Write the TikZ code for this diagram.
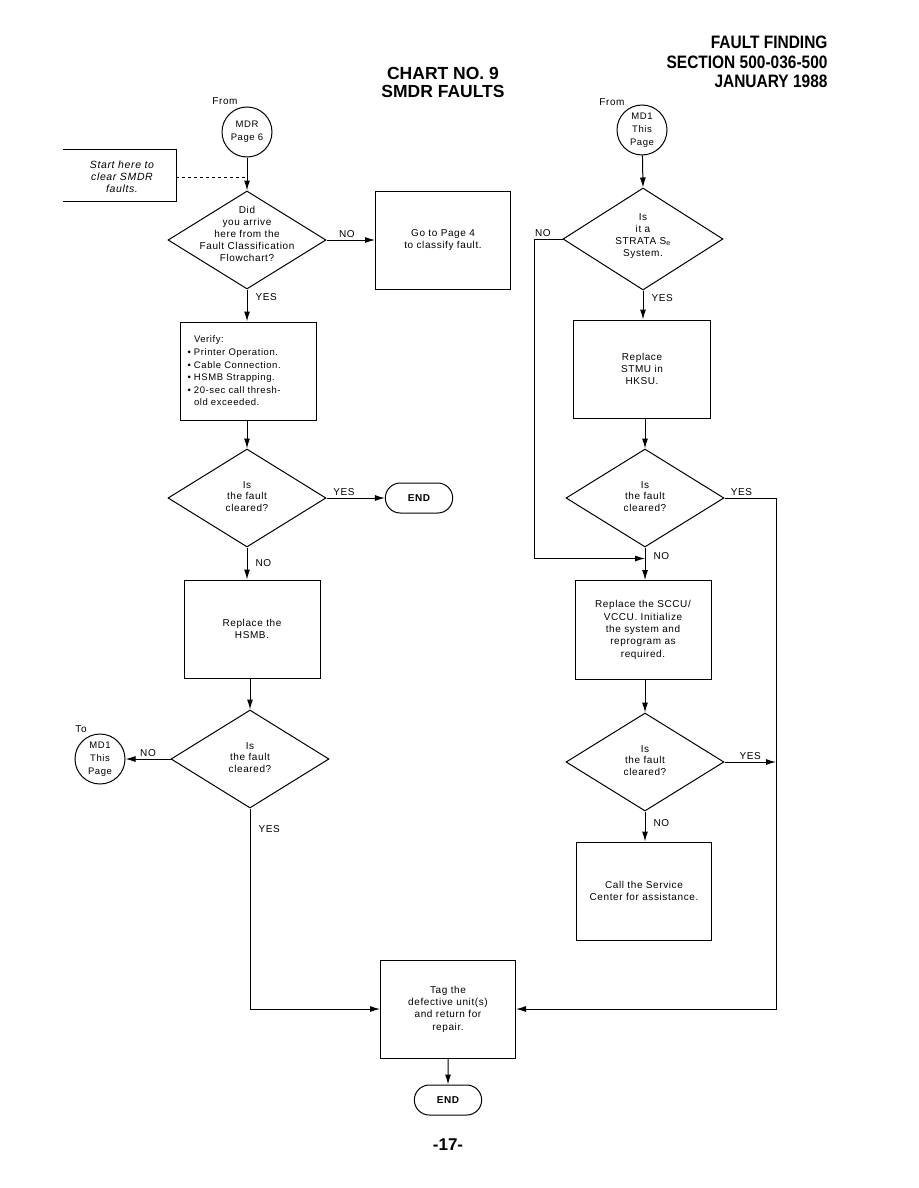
\documentclass[tikz,border=0pt]{standalone}
\usepackage{fontspec}
\setmainfont{Liberation Sans}[LetterSpace=6]
\newfontfamily\headfont{Liberation Sans}[FakeStretch=0.86]
\newfontfamily\titlefont{Liberation Sans}
\usetikzlibrary{arrows.meta,positioning,shapes.geometric,shapes.misc}
\newcommand{\bitem}{\leavevmode\llap{\textbullet\ }}

\begin{document}
\begin{tikzpicture}[x=1pt, y=-1pt, >={Latex[length=10pt,width=6pt]}, line width=1pt,
    font=\fontsize{10}{12.3}\selectfont]
  \tikzstyle{task}=[draw, align=center, minimum width=136pt, minimum height=98pt, inner sep=2pt]
  \tikzstyle{query}=[draw, diamond, minimum width=158pt, minimum height=98pt, inner sep=0pt]
  \tikzstyle{qtext}=[align=center, inner sep=0pt, font=\fontsize{10}{11.8}\selectfont]
  \tikzstyle{link}=[draw, circle, align=center, minimum size=50pt, inner sep=0pt, font=\fontsize{9.5}{13}\selectfont]
  \tikzstyle{terminal}=[draw, rounded rectangle, minimum width=74pt, minimum height=30pt, font=\bfseries\fontsize{10}{12}\selectfont]
  \tikzstyle{ans}=[inner sep=2pt, font=\fontsize{10}{11}\selectfont]
  \tikzstyle{down}=[ans, right, xshift=6pt]

  \useasboundingbox (0,0) rectangle (918,1188);

  % page heading
  \node[anchor=east, align=right, inner sep=0pt, font=\headfont\bfseries\fontsize{18}{19.5}\selectfont] (section) at (828,62) {FAULT FINDING\\SECTION 500-036-500\\JANUARY 1988};
  \node[align=center, font=\titlefont\bfseries\fontsize{17.5}{18}\selectfont] (title) at (443,82) {CHART NO. 9\\SMDR FAULTS};

  % left column
  \node[ans] (fromleft) at (225,101) {From};
  \node[link] (mdr) at (247,132) {MDR\\Page 6};
  \node[align=center, font=\itshape\fontsize{10.5}{12}\selectfont] (start) at (122,177) {Start here to\\clear SMDR\\faults.};
  \coordinate (startedge) at (176,177);
  \node[query, label={[qtext, yshift=6pt]center:{Did\\you arrive\\here from the\\Fault Classification\\Flowchart?}}] (arrive) at (247,240) {};
  \node[task, minimum width=135pt] (page4) at (443,240) {Go to Page 4\\to classify fault.};
  \node[task, align=left, text width=108pt, font=\fontsize{9.5}{12.6}\selectfont] (verify) at (248,371) {Verify:\\
    \bitem Printer Operation.\\
    \bitem Cable Connection.\\
    \bitem HSMB Strapping.\\
    \bitem 20-sec call thresh-\\
    old exceeded.};
  \node[query, label={[qtext, yshift=1.5pt]center:{Is\\the fault\\cleared?}}] (clear1) at (247,498) {};
  \node[terminal] (end1) at (419,498) {END};
  \node[task] (hsmb) at (252,629) {Replace the\\HSMB.};
  \node[query, label={[qtext, yshift=1.5pt]center:{Is\\the fault\\cleared?}}] (clear2) at (250,759) {};
  \node[link] (md1to) at (100,759) {MD1\\This\\Page};
  \node[ans] (toleft) at (81,729) {To};
  \node[task, minimum width=135pt] (tagunit) at (448,1009) {Tag the\\defective unit(s)\\and return for\\repair.};
  \node[terminal] (end2) at (448,1100) {END};
  \node[font=\titlefont\bfseries\fontsize{17}{20}\selectfont] (pageno) at (448,1145) {-17-};

  % right column
  \node[ans] (fromright) at (612,102) {From};
  \node[link] (md1from) at (642,130) {MD1\\This\\Page};
  \node[query, minimum width=160pt, minimum height=102pt, label={[qtext, yshift=3pt]center:{Is\\it a\\STRATA S\textsubscript{e}\\System.}}] (strata) at (643,239) {};
  \node[task, minimum width=137pt] (stmu) at (642,369) {Replace\\STMU in\\HKSU.};
  \node[query, label={[qtext, yshift=1.5pt]center:{Is\\the fault\\cleared?}}] (clear3) at (645,498) {};
  \node[task, minimum height=99pt] (sccu) at (643,630) {Replace the SCCU/\\VCCU. Initialize\\the system and\\reprogram as\\required.};
  \node[query, label={[qtext, yshift=1.5pt]center:{Is\\the fault\\cleared?}}] (clear4) at (645,762) {};
  \node[task, minimum width=135pt] (call) at (644,891) {Call the Service\\Center for assistance.};
  \coordinate (yesrail) at (776,498);
  \path (clear3.south) ++(0,11) coordinate (merge);

  % start box
  \draw (63,149) -| (176,201) -- (63,201);

  \draw[->] (mdr) -- (arrive.north);
  \draw[dashed] (startedge) -- (startedge -| mdr.south);
  \draw[->] (arrive.east) -- node[ans, above, pos=0.42] {NO} (page4.west);
  \draw[->] (arrive.south) -- node[down, pos=0.25] {YES} (arrive.south |- verify.north);
  \draw[->] (verify.south -| clear1.north) -- (clear1.north);
  \draw[->] (clear1.east) -- node[ans, above, pos=0.3] {YES} (end1.west);
  \draw[->] (clear1.south) -- node[down, pos=0.5] {NO} (clear1.south |- hsmb.north);
  \draw[->] (hsmb.south -| clear2.north) -- (clear2.north);
  \draw[->] (clear2.west) -- node[ans, above] {NO} (md1to.east);
  \draw[->] (clear2.south) |- node[down, pos=0.05] {YES} (tagunit.west);
  \draw[->] (tagunit) -- (end2);

  \draw[->] (md1from) -- (strata.north);
  \draw[->] (strata.west) -- node[ans, above, pos=0.7] {NO} ++(-28,0) |- (merge);
  \draw[->] (strata.south) -- node[down, pos=0.25] {YES} (strata.south |- stmu.north);
  \draw[->] (stmu.south -| clear3.north) -- (clear3.north);
  \draw[->] (clear3.east) -- node[ans, above, pos=0.33] {YES} (yesrail) |- (tagunit.east);
  \draw[->] (clear3.south) -- node[down, pos=0.25] {NO} (clear3.south |- sccu.north);
  \draw[->] (sccu.south -| clear4.north) -- (clear4.north);
  \draw[->] (clear4.east) -- node[ans, above] {YES} (clear4.east -| yesrail);
  \draw[->] (clear4.south) -- node[down, pos=0.4] {NO} (clear4.south |- call.north);
\end{tikzpicture}
\end{document}
